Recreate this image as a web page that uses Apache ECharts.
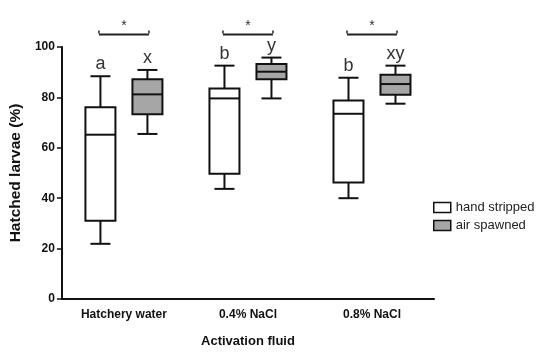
<!DOCTYPE html>
<html>
<head>
<meta charset="utf-8">
<script src="https://cdn.jsdelivr.net/npm/echarts@6/dist/echarts.min.js"></script>
<style>
html,body{margin:0;padding:0;background:#fff;}
#chart{width:550px;height:354px;}
</style>
</head>
<body>
<div id="chart"></div>
<script>
const categories = ['Hatchery water', '0.4% NaCl', '0.8% NaCl'];
// [min, Q1, median, Q3, max]
const handStripped = [
  [21.9, 31.1, 65.2, 76.1, 88.4],
  [43.7, 49.7, 79.6, 83.5, 92.6],
  [40.0, 46.2, 73.5, 78.8, 87.8]
];
const airSpawned = [
  [65.5, 73.3, 81.2, 87.2, 90.9],
  [79.6, 87.2, 90.2, 93.3, 95.8],
  [77.5, 81.1, 85.3, 89.0, 92.6]
];
const handLetters = ['a', 'b', 'b'];
const airLetters = ['x', 'y', 'xy'];
const significance = ['*', '*', '*'];
const bracketLevel = [105, 105, 105];
const yTicks = [0, 20, 40, 60, 80, 100];

const FONT = '"Liberation Sans", Arial, sans-serif';

function boxRenderer(offset, fill, letters) {
  return function (params, api) {
    const i = api.value(0);
    const x = api.coord([i, 0])[0] + offset;
    const y = v => api.coord([i, v])[1];
    const yMin = y(api.value(1)), yQ1 = y(api.value(2)), yMed = y(api.value(3)),
          yQ3 = y(api.value(4)), yMax = y(api.value(5));
    const hw = 15, cw = 10;
    const ls = { stroke: '#111', lineWidth: 2 };
    return {
      type: 'group',
      children: [
        { type: 'line', shape: { x1: x, y1: yQ3, x2: x, y2: yMax }, style: ls },
        { type: 'line', shape: { x1: x - cw, y1: yMax, x2: x + cw, y2: yMax }, style: ls },
        { type: 'line', shape: { x1: x, y1: yQ1, x2: x, y2: yMin }, style: ls },
        { type: 'line', shape: { x1: x - cw, y1: yMin, x2: x + cw, y2: yMin }, style: ls },
        { type: 'rect', shape: { x: x - hw, y: yQ3, width: hw * 2, height: yQ1 - yQ3 },
          style: { fill: fill, stroke: '#111', lineWidth: 2 } },
        { type: 'line', shape: { x1: x - hw, y1: yMed, x2: x + hw, y2: yMed }, style: ls },
        { type: 'text', style: { text: letters[params.dataIndex], x: x, y: yMax - 3,
          align: 'center', verticalAlign: 'bottom', fontSize: 18, fontFamily: FONT, fill: '#333' } }
      ]
    };
  };
}

const handData = handStripped.map((d, i) => [i].concat(d));
const airData = airSpawned.map((d, i) => [i].concat(d));
const sigData = bracketLevel.map((v, i) => [i, v]);

const chart = echarts.init(document.getElementById('chart'));
chart.setOption({
  animation: false,
  backgroundColor: '#fff',
  grid: { left: 60, top: 47, width: 374, height: 252, containLabel: false },
  legend: {
    orient: 'vertical', left: 428, top: 196,
    itemWidth: 17, itemHeight: 10, itemGap: 5,
    textStyle: { fontSize: 13, fontFamily: FONT, color: '#222' },
    data: [
      { name: 'hand stripped', icon: 'rect', itemStyle: { color: '#fff', borderColor: '#111', borderWidth: 1.5 } },
      { name: 'air spawned', icon: 'rect', itemStyle: { color: '#a6a6a6', borderColor: '#111', borderWidth: 1.5 } }
    ]
  },
  xAxis: {
    type: 'category', data: categories, boundaryGap: true,
    name: 'Activation fluid', nameLocation: 'middle', nameGap: 36,
    nameTextStyle: { fontSize: 13, fontWeight: 'bold', fontFamily: FONT, color: '#111' },
    axisLine: { onZero: false, lineStyle: { color: '#111', width: 2 } },
    axisTick: { alignWithLabel: true, length: 4, lineStyle: { color: '#111', width: 1.5 } },
    axisLabel: { fontSize: 12, fontWeight: 'bold', fontFamily: FONT, color: '#111', margin: 10 },
    splitLine: { show: false }
  },
  yAxis: {
    type: 'value', min: yTicks[0], max: yTicks[yTicks.length - 1], interval: 20,
    name: 'Hatched larvae (%)', nameLocation: 'middle', nameGap: 31,
    nameTextStyle: { fontSize: 15.5, fontWeight: 'bold', fontFamily: FONT, color: '#111' },
    axisLine: { show: true, lineStyle: { color: '#111', width: 2 } },
    axisTick: { show: true, length: 5, lineStyle: { color: '#111', width: 1.5 } },
    axisLabel: { fontSize: 12, fontWeight: 'bold', fontFamily: FONT, color: '#111', margin: 7 },
    splitLine: { show: false }
  },
  series: [
    {
      name: 'hand stripped', type: 'custom', clip: false,
      itemStyle: { color: '#fff', borderColor: '#111' },
      encode: { x: 0, y: [1, 2, 3, 4, 5] },
      renderItem: boxRenderer(-23.5, '#ffffff', handLetters),
      data: handData
    },
    {
      name: 'air spawned', type: 'custom', clip: false,
      itemStyle: { color: '#a6a6a6', borderColor: '#111' },
      encode: { x: 0, y: [1, 2, 3, 4, 5] },
      renderItem: boxRenderer(23.5, '#a6a6a6', airLetters),
      data: airData
    },
    {
      name: 'significance', type: 'custom', clip: false, silent: true,
      encode: { x: 0, y: 1 },
      renderItem: function (params, api) {
        const p = api.coord([api.value(0), api.value(1)]);
        const x = p[0], y = p[1], hw = 25;
        const ls = { stroke: '#222', lineWidth: 2 };
        return {
          type: 'group',
          children: [
            { type: 'line', shape: { x1: x - hw, y1: y, x2: x + hw, y2: y }, style: ls },
            { type: 'line', shape: { x1: x - hw, y1: y - 1, x2: x - hw, y2: y - 4 }, style: { stroke: '#222', lineWidth: 1.5 } },
            { type: 'line', shape: { x1: x + hw, y1: y - 1, x2: x + hw, y2: y - 4 }, style: { stroke: '#222', lineWidth: 1.5 } },
            { type: 'text', style: { text: significance[params.dataIndex], x: x, y: y - 1,
              align: 'center', verticalAlign: 'bottom', fontSize: 14, fontFamily: FONT, fill: '#333' } }
          ]
        };
      },
      data: sigData
    }
  ]
});
</script>
</body>
</html>
